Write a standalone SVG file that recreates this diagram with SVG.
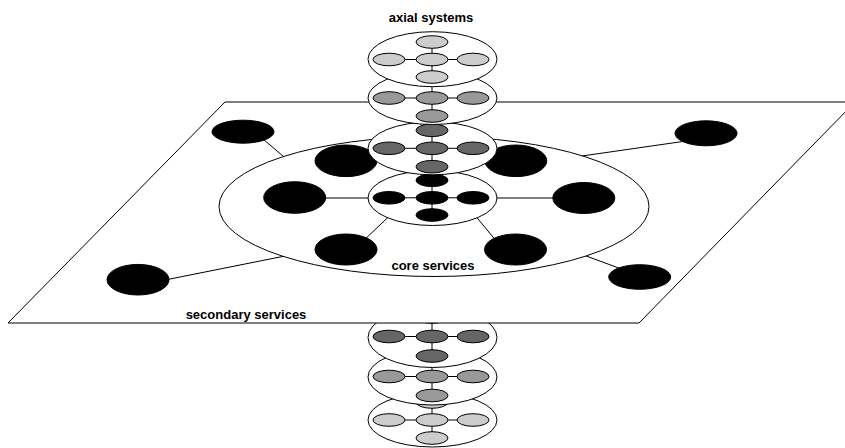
<svg xmlns="http://www.w3.org/2000/svg" width="845" height="448" viewBox="0 0 845 448">
<style>
.o{fill:#fff;stroke:#000;stroke-width:1}
.ln{stroke:#000;stroke-width:1;fill:none}
.b{fill:#000;stroke:#000;stroke-width:1}
.n1{fill:#ccc;stroke:#000;stroke-width:1}
.n2{fill:#999;stroke:#000;stroke-width:1}
.n3{fill:#666;stroke:#000;stroke-width:1}
.n4{fill:#000;stroke:#000;stroke-width:1}
.t{font-family:"Liberation Sans",Arial,sans-serif;font-weight:bold;font-size:13px;fill:#000}
</style>
<defs>
<g id="ax">
<line class="ln" x1="389" y1="0" x2="473" y2="0"/>
<line class="ln" x1="432" y1="-18" x2="432" y2="18"/>
</g>
</defs>
<rect width="845" height="448" fill="#fff"/>

<!-- lower axial stack -->
<g id="axial7">
<ellipse class="o" cx="432.5" cy="420" rx="64.5" ry="27"/>
<line class="ln" x1="389" y1="420" x2="473" y2="420"/>
<line class="ln" x1="432" y1="402" x2="432" y2="438"/>
<ellipse class="n1" cx="432" cy="402" rx="16" ry="6.3"/>
<ellipse class="n1" cx="389" cy="420" rx="16" ry="6.3"/>
<ellipse class="n1" cx="432" cy="420" rx="16" ry="6.3"/>
<ellipse class="n1" cx="473" cy="420" rx="16" ry="6.3"/>
<ellipse class="n1" cx="432" cy="438" rx="16" ry="6.3"/>
</g>
<g id="axial6">
<ellipse class="o" cx="432.5" cy="377" rx="64.5" ry="28"/>
<line class="ln" x1="389" y1="376.5" x2="473" y2="376.5"/>
<line class="ln" x1="432" y1="357" x2="432" y2="395.5"/>
<ellipse class="n2" cx="432" cy="357" rx="16" ry="6.3"/>
<ellipse class="n2" cx="389" cy="376.5" rx="16" ry="6.3"/>
<ellipse class="n2" cx="432" cy="376.5" rx="16" ry="6.3"/>
<ellipse class="n2" cx="473" cy="376.5" rx="16" ry="6.3"/>
<ellipse class="n2" cx="432" cy="395.5" rx="16" ry="6.3"/>
</g>
<g id="axial5">
<ellipse class="o" cx="432.5" cy="337.5" rx="64.5" ry="30"/>
<line class="ln" x1="389" y1="336.5" x2="473" y2="336.5"/>
<line class="ln" x1="432" y1="317" x2="432" y2="356"/>
<ellipse class="n3" cx="432" cy="317" rx="16" ry="6.3"/>
<ellipse class="n3" cx="389" cy="336.5" rx="16" ry="6.3"/>
<ellipse class="n3" cx="432" cy="336.5" rx="16" ry="6.3"/>
<ellipse class="n3" cx="473" cy="336.5" rx="16" ry="6.3"/>
<ellipse class="n3" cx="432" cy="356" rx="16" ry="6.3"/>
</g>

<!-- plane -->
<g id="plane">
<polygon class="o" points="225,102 855,102 639,323 8,323"/>
<text class="t" x="246" y="319" text-anchor="middle">secondary services</text>
</g>

<!-- connectors -->
<g id="connectors">
<line class="ln" x1="250" y1="128" x2="290" y2="162"/>
<line class="ln" x1="150" y1="283" x2="295" y2="254"/>
<line class="ln" x1="575" y1="157" x2="700" y2="139"/>
<line class="ln" x1="578" y1="253" x2="635" y2="274"/>
</g>

<g id="core">
<ellipse class="o" cx="434" cy="206.5" rx="215" ry="70"/>
<text class="t" x="433" y="270" text-anchor="middle">core services</text>
</g>

<g id="core-connectors">
<line class="ln" x1="310" y1="198" x2="380" y2="198"/>
<line class="ln" x1="485" y1="198" x2="570" y2="198"/>
<line class="ln" x1="360" y1="244" x2="392" y2="213.5"/>
<line class="ln" x1="472" y1="211.7" x2="500" y2="245.5"/>
</g>

<g id="secondary-nodes">
<ellipse class="b" cx="243" cy="131.7" rx="31" ry="11.5"/>
<ellipse class="b" cx="138" cy="279.7" rx="31" ry="15.3"/>
<ellipse class="b" cx="706" cy="133.3" rx="31" ry="12.5"/>
<ellipse class="b" cx="639.7" cy="277" rx="31" ry="12.3"/>
</g>

<g id="core-nodes">
<ellipse class="b" cx="346" cy="160.8" rx="31" ry="15.8"/>
<ellipse class="b" cx="294.7" cy="197.5" rx="31" ry="15.8"/>
<ellipse class="b" cx="346" cy="249.5" rx="31" ry="15.5"/>
<ellipse class="b" cx="515.8" cy="160.8" rx="31" ry="15.8"/>
<ellipse class="b" cx="583.8" cy="198" rx="31" ry="15.5"/>
<ellipse class="b" cx="515.5" cy="249.5" rx="31" ry="15.5"/>
</g>

<!-- upper axial stack -->
<g id="axial4">
<ellipse class="o" cx="432.5" cy="198" rx="64.5" ry="27.5"/>
<line class="ln" x1="389" y1="197.8" x2="473" y2="197.8"/>
<line class="ln" x1="432" y1="180.3" x2="432" y2="215"/>
<ellipse class="n4" cx="432" cy="180.3" rx="16" ry="6.3"/>
<ellipse class="n4" cx="389" cy="197.8" rx="16" ry="6.3"/>
<ellipse class="n4" cx="432" cy="197.8" rx="16" ry="6.3"/>
<ellipse class="n4" cx="473" cy="197.8" rx="16" ry="6.3"/>
<ellipse class="n4" cx="432" cy="215" rx="16" ry="6.3"/>
</g>
<g id="axial3">
<ellipse class="o" cx="432.5" cy="148.3" rx="64.5" ry="26.5"/>
<line class="ln" x1="389" y1="148.3" x2="473" y2="148.3"/>
<line class="ln" x1="432" y1="130.3" x2="432" y2="166.7"/>
<ellipse class="n3" cx="432" cy="130.3" rx="16" ry="6.3"/>
<ellipse class="n3" cx="389" cy="148.3" rx="16" ry="6.3"/>
<ellipse class="n3" cx="432" cy="148.3" rx="16" ry="6.3"/>
<ellipse class="n3" cx="473" cy="148.3" rx="16" ry="6.3"/>
<ellipse class="n3" cx="432" cy="166.7" rx="16" ry="6.3"/>
</g>
<g id="axial2">
<ellipse class="o" cx="432.5" cy="98" rx="64.5" ry="26.5"/>
<line class="ln" x1="389" y1="98" x2="473" y2="98"/>
<line class="ln" x1="432" y1="80" x2="432" y2="116"/>
<ellipse class="n2" cx="432" cy="80" rx="16" ry="6.3"/>
<ellipse class="n2" cx="389" cy="98" rx="16" ry="6.3"/>
<ellipse class="n2" cx="432" cy="98" rx="16" ry="6.3"/>
<ellipse class="n2" cx="473" cy="98" rx="16" ry="6.3"/>
<ellipse class="n2" cx="432" cy="116" rx="16" ry="6.3"/>
</g>
<g id="axial1">
<ellipse class="o" cx="432.5" cy="59.2" rx="64.5" ry="27.5"/>
<line class="ln" x1="389" y1="59.5" x2="473" y2="59.5"/>
<line class="ln" x1="432" y1="42" x2="432" y2="77"/>
<ellipse class="n1" cx="432" cy="42" rx="16" ry="6.3"/>
<ellipse class="n1" cx="389" cy="59.5" rx="16" ry="6.3"/>
<ellipse class="n1" cx="432" cy="59.5" rx="16" ry="6.3"/>
<ellipse class="n1" cx="473" cy="59.5" rx="16" ry="6.3"/>
<ellipse class="n1" cx="432" cy="77" rx="16" ry="6.3"/>
</g>
<g id="label-axial">
<text class="t" x="431" y="22" text-anchor="middle">axial systems</text>
</g>
</svg>
